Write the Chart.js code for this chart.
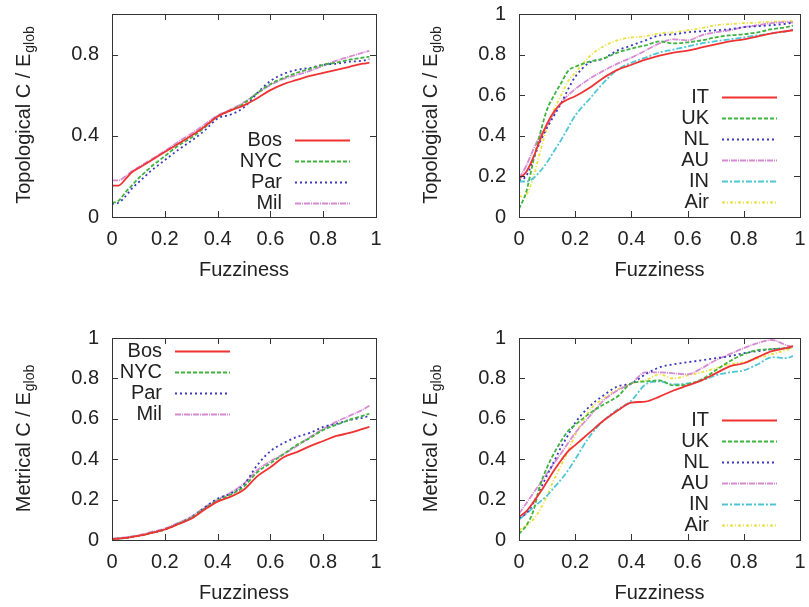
<!DOCTYPE html>
<html>
<head>
<meta charset="utf-8">
<script src="https://cdn.jsdelivr.net/npm/chart.js@4.4.1/dist/chart.umd.min.js"></script>
<style>
  body { margin: 0; background: #fff; }
  .panel { position: absolute; }
</style>
</head>
<body>
<div class="panel" style="left:0;top:0"><canvas id="c1" width="404" height="300"></canvas></div>
<div class="panel" style="left:404px;top:0"><canvas id="c2" width="405" height="300"></canvas></div>
<div class="panel" style="left:0;top:300px"><canvas id="c3" width="404" height="307"></canvas></div>
<div class="panel" style="left:404px;top:300px"><canvas id="c4" width="405" height="307"></canvas></div>
<script>
// x positions of the samples (fuzziness)
const fuzz = [0,0.025,0.05,0.075,0.1,0.125,0.15,0.175,0.2,0.25,0.3,0.35,0.4,0.45,0.5,0.55,0.6,0.65,0.7,0.75,0.8,0.85,0.9,0.95,0.975];
const xTicks = [0, 0.2, 0.4, 0.6, 0.8, 1];

// topological, cities
const topoBos = [0.155,0.155,0.185,0.22,0.24,0.26,0.28,0.30,0.32,0.36,0.40,0.445,0.495,0.525,0.55,0.585,0.625,0.655,0.675,0.695,0.71,0.725,0.74,0.755,0.76];
const topoNYC = [0.07,0.08,0.12,0.155,0.19,0.22,0.25,0.275,0.30,0.35,0.39,0.44,0.495,0.525,0.56,0.61,0.655,0.685,0.71,0.73,0.75,0.76,0.775,0.785,0.79];
const topoPar = [0.065,0.07,0.10,0.14,0.17,0.20,0.23,0.255,0.28,0.33,0.375,0.425,0.485,0.505,0.54,0.61,0.67,0.705,0.725,0.735,0.75,0.755,0.765,0.77,0.778];
const topoMil = [0.18,0.18,0.20,0.225,0.245,0.265,0.285,0.305,0.325,0.37,0.41,0.455,0.50,0.53,0.565,0.61,0.65,0.68,0.70,0.72,0.745,0.77,0.79,0.81,0.818];

// topological, countries
const topoIT  = [0.19,0.22,0.29,0.38,0.46,0.52,0.56,0.58,0.595,0.635,0.685,0.725,0.75,0.775,0.795,0.81,0.82,0.835,0.85,0.865,0.875,0.89,0.905,0.915,0.92];
const topoUK  = [0.04,0.12,0.27,0.41,0.53,0.60,0.66,0.72,0.74,0.765,0.78,0.81,0.83,0.845,0.865,0.855,0.86,0.87,0.885,0.895,0.90,0.91,0.925,0.935,0.943];
const topoNL  = [0.18,0.20,0.28,0.37,0.44,0.50,0.56,0.63,0.69,0.76,0.78,0.82,0.845,0.87,0.895,0.90,0.91,0.915,0.92,0.925,0.935,0.94,0.945,0.952,0.956];
const topoAU  = [0.19,0.25,0.33,0.40,0.45,0.51,0.565,0.60,0.63,0.68,0.72,0.755,0.785,0.82,0.855,0.875,0.87,0.895,0.91,0.92,0.935,0.945,0.955,0.96,0.958];
const topoIN  = [0.175,0.175,0.19,0.225,0.27,0.325,0.38,0.44,0.50,0.58,0.66,0.725,0.76,0.785,0.81,0.825,0.84,0.855,0.866,0.875,0.885,0.895,0.905,0.915,0.925];
const topoAir = [0.10,0.11,0.19,0.32,0.44,0.53,0.60,0.67,0.71,0.79,0.84,0.87,0.885,0.89,0.905,0.91,0.92,0.93,0.945,0.95,0.955,0.958,0.962,0.964,0.965];

// metrical, cities
const metrBos = [0.005,0.007,0.01,0.015,0.02,0.027,0.035,0.043,0.052,0.078,0.105,0.15,0.19,0.215,0.25,0.315,0.36,0.41,0.435,0.465,0.49,0.515,0.53,0.55,0.56];
const metrNYC = [0.005,0.007,0.01,0.015,0.02,0.027,0.035,0.043,0.052,0.08,0.11,0.155,0.195,0.225,0.265,0.335,0.38,0.425,0.47,0.505,0.545,0.57,0.595,0.615,0.625];
const metrPar = [0.005,0.007,0.01,0.015,0.02,0.027,0.035,0.043,0.052,0.08,0.112,0.16,0.205,0.23,0.275,0.37,0.44,0.48,0.51,0.53,0.56,0.575,0.595,0.605,0.615];
const metrMil = [0.007,0.009,0.013,0.018,0.024,0.031,0.04,0.048,0.057,0.085,0.115,0.16,0.20,0.235,0.28,0.345,0.39,0.425,0.465,0.51,0.55,0.585,0.615,0.645,0.665];

// metrical, countries
const metrIT  = [0.115,0.14,0.185,0.235,0.29,0.345,0.395,0.44,0.47,0.53,0.59,0.64,0.68,0.685,0.71,0.74,0.765,0.79,0.825,0.86,0.875,0.905,0.935,0.95,0.96];
const metrUK  = [0.03,0.07,0.14,0.27,0.36,0.43,0.49,0.54,0.57,0.625,0.67,0.71,0.775,0.785,0.79,0.765,0.77,0.795,0.84,0.885,0.92,0.94,0.945,0.95,0.955];
const metrNL  = [0.11,0.13,0.18,0.25,0.32,0.39,0.46,0.52,0.58,0.66,0.715,0.76,0.775,0.82,0.855,0.87,0.88,0.89,0.90,0.91,0.925,0.935,0.945,0.95,0.955];
const metrAU  = [0.13,0.18,0.23,0.28,0.33,0.38,0.43,0.48,0.53,0.61,0.69,0.74,0.775,0.83,0.83,0.825,0.82,0.85,0.89,0.92,0.95,0.975,0.99,0.965,0.955];
const metrIN  = [0.10,0.13,0.16,0.19,0.22,0.26,0.30,0.345,0.40,0.51,0.59,0.645,0.69,0.77,0.785,0.77,0.775,0.79,0.815,0.83,0.84,0.87,0.905,0.90,0.91];
const metrAir = [0.05,0.07,0.10,0.15,0.22,0.30,0.37,0.44,0.52,0.64,0.70,0.745,0.775,0.79,0.82,0.80,0.815,0.83,0.85,0.87,0.88,0.90,0.92,0.94,0.95];

// line styles, gnuplot like
const styles = {
  red:    { color: '#f03232', dash: [] },
  green:  { color: '#3fb23f', dash: [4, 2] },
  blue:   { color: '#3a3abf', dash: [2, 3] },
  pink:   { color: '#d68ad2', dash: [6, 1, 1, 1] },
  cyan:   { color: '#4fc6d6', dash: [6, 2, 2, 2] },
  yellow: { color: '#ece03a', dash: [3, 2, 1, 2] }
};

Chart.defaults.font.family = '"Liberation Sans", Arial, sans-serif';
Chart.defaults.font.size = 20;
Chart.defaults.color = '#222';

function series(label, values, style) {
  return {
    label: label,
    data: values.map((v, i) => ({ x: fuzz[i], y: v })),
    borderColor: style.color,
    borderDash: style.dash,
    borderWidth: 1.8,
    pointRadius: 0,
    fill: false,
    cubicInterpolationMode: 'monotone'
  };
}

// frame, inward ticks, titles with subscript and a legend inside the plot
const frame = {
  id: 'frame',
  afterDraw(chart, args, opts) {
    const ctx = chart.ctx, a = chart.chartArea;
    const sx = chart.scales.x, sy = chart.scales.y;
    ctx.save();
    ctx.strokeStyle = '#333';
    ctx.lineWidth = 1;
    ctx.setLineDash([]);
    ctx.strokeRect(Math.round(a.left) + 0.5, Math.round(a.top) + 0.5, Math.round(a.width), Math.round(a.height));
    ctx.beginPath();
    sx.ticks.forEach(t => {
      const p = Math.round(sx.getPixelForValue(t.value)) + 0.5;
      ctx.moveTo(p, a.bottom); ctx.lineTo(p, a.bottom - 6);
      ctx.moveTo(p, a.top); ctx.lineTo(p, a.top + 6);
    });
    sy.ticks.forEach(t => {
      const p = Math.round(sy.getPixelForValue(t.value)) + 0.5;
      ctx.moveTo(a.left, p); ctx.lineTo(a.left + 6, p);
      ctx.moveTo(a.right, p); ctx.lineTo(a.right - 6, p);
    });
    ctx.stroke();

    ctx.fillStyle = '#222';
    ctx.font = '20px "Liberation Sans", Arial, sans-serif';
    ctx.textAlign = 'center';
    ctx.textBaseline = 'middle';
    ctx.fillText('Fuzziness', (a.left + a.right) / 2, a.bottom + 53);

    // y title: "<name> C / E" with subscript "glob"
    const main = opts.yTitle, sub = 'glob';
    const w1 = ctx.measureText(main).width;
    ctx.font = '14px "Liberation Sans", Arial, sans-serif';
    const w2 = ctx.measureText(sub).width;
    ctx.translate(a.left - 88, (a.top + a.bottom) / 2);
    ctx.rotate(-Math.PI / 2);
    ctx.textAlign = 'left';
    ctx.font = '20px "Liberation Sans", Arial, sans-serif';
    ctx.fillText(main, -(w1 + w2) / 2, 0);
    ctx.font = '14px "Liberation Sans", Arial, sans-serif';
    ctx.fillText(sub, -(w1 + w2) / 2 + w1 + 1, 6);
    ctx.setTransform(1, 0, 0, 1, 0, 0);

    // legend
    ctx.font = '20px "Liberation Sans", Arial, sans-serif';
    ctx.textAlign = 'right';
    chart.data.datasets.forEach((ds, i) => {
      const y = a.top + opts.legY + i * 21;
      const x0 = a.left + opts.legX;
      ctx.fillStyle = '#222';
      ctx.fillText(ds.label, x0 - 13, y);
      ctx.strokeStyle = ds.borderColor;
      ctx.lineWidth = 1.8;
      ctx.setLineDash(ds.borderDash);
      ctx.beginPath();
      ctx.moveTo(x0, y + 0.5);
      ctx.lineTo(x0 + 55, y + 0.5);
      ctx.stroke();
    });
    ctx.restore();
  }
};

function makeChart(id, datasets, cfg) {
  return new Chart(document.getElementById(id), {
    type: 'line',
    data: { datasets: datasets },
    options: {
      responsive: false,
      animation: false,
      events: [],
      layout: { padding: { top: cfg.top, right: cfg.right, bottom: 0, left: 0 } },
      scales: {
        x: {
          type: 'linear', min: 0, max: 1,
          grid: { display: false, drawTicks: false },
          border: { display: false },
          afterFit: s => { s.height = cfg.xHeight; s.paddingLeft = 0; s.paddingRight = 0; },
          afterBuildTicks: s => { s.ticks = xTicks.map(v => ({ value: v })); },
          ticks: { padding: 10, maxRotation: 0, autoSkip: false, callback: v => String(+v.toFixed(1)) }
        },
        y: {
          type: 'linear', min: 0, max: 1,
          grid: { display: false, drawTicks: false },
          border: { display: false },
          afterFit: s => { s.width = cfg.yWidth; s.paddingTop = 0; s.paddingBottom = 0; },
          afterBuildTicks: s => { s.ticks = cfg.yTicks.map(v => ({ value: v })); },
          ticks: { padding: 13, autoSkip: false, callback: v => String(+v.toFixed(1)) }
        }
      },
      plugins: {
        legend: { display: false },
        tooltip: { enabled: false },
        frame: { yTitle: cfg.yTitle, legX: cfg.legX, legY: cfg.legY }
      }
    },
    plugins: [frame]
  });
}

const fullTicks = [0, 0.2, 0.4, 0.6, 0.8, 1];

makeChart('c1', [
  series('Bos', topoBos, styles.red),
  series('NYC', topoNYC, styles.green),
  series('Par', topoPar, styles.blue),
  series('Mil', topoMil, styles.pink)
], { top: 14, right: 28, xHeight: 83, yWidth: 112, yTicks: [0, 0.4, 0.8],
     yTitle: 'Topological C / E', legX: 183, legY: 126 });

makeChart('c2', [
  series('IT', topoIT, styles.red),
  series('UK', topoUK, styles.green),
  series('NL', topoNL, styles.blue),
  series('AU', topoAU, styles.pink),
  series('IN', topoIN, styles.cyan),
  series('Air', topoAir, styles.yellow)
], { top: 14, right: 9, xHeight: 83, yWidth: 115, yTicks: fullTicks,
     yTitle: 'Topological C / E', legX: 203, legY: 83 });

makeChart('c3', [
  series('Bos', metrBos, styles.red),
  series('NYC', metrNYC, styles.green),
  series('Par', metrPar, styles.blue),
  series('Mil', metrMil, styles.pink)
], { top: 38, right: 28, xHeight: 67, yWidth: 112, yTicks: fullTicks,
     yTitle: 'Metrical C / E', legX: 63, legY: 13 });

makeChart('c4', [
  series('IT', metrIT, styles.red),
  series('UK', metrUK, styles.green),
  series('NL', metrNL, styles.blue),
  series('AU', metrAU, styles.pink),
  series('IN', metrIN, styles.cyan),
  series('Air', metrAir, styles.yellow)
], { top: 38, right: 9, xHeight: 67, yWidth: 115, yTicks: fullTicks,
     yTitle: 'Metrical C / E', legX: 203, legY: 82 });
</script>
</body>
</html>
